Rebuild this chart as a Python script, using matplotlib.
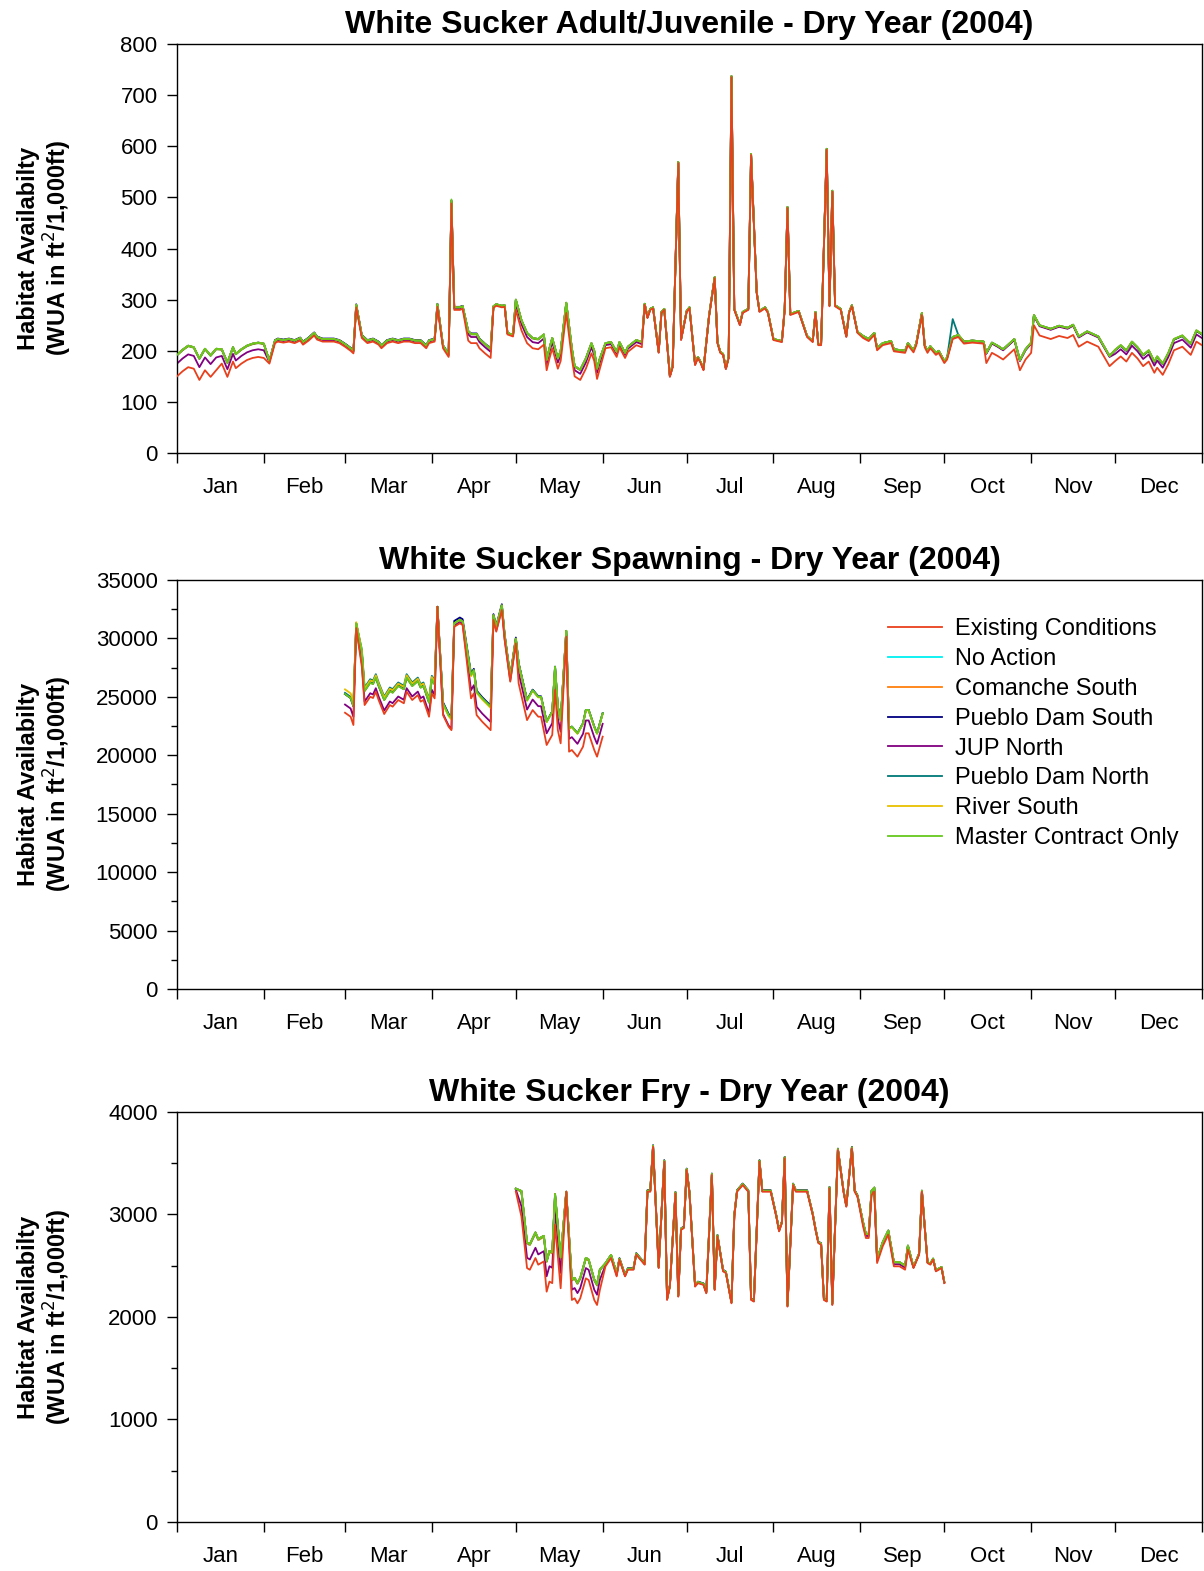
import numpy as np
import matplotlib.pyplot as plt

plt.rcParams['font.family'] = ['Liberation Sans', 'DejaVu Sans']

month_names = ['Jan', 'Feb', 'Mar', 'Apr', 'May', 'Jun',
               'Jul', 'Aug', 'Sep', 'Oct', 'Nov', 'Dec']
month_starts = [0, 31, 60, 91, 121, 152, 182, 213, 244, 274, 305, 335, 366]

series_names = ['Existing Conditions', 'No Action', 'Comanche South',
                'Pueblo Dam South', 'JUP North', 'Pueblo Dam North',
                'River South', 'Master Contract Only']
series_colors = ['#e8401c', '#00f0f0', '#ff7f0e', '#000080',
                 '#800080', '#007878', '#e8c000', '#66c81e']
series_z = [3.0, 2.0, 2.1, 2.2, 2.3, 2.4, 2.5, 2.6]

# ---- Adult/Juvenile: day of year, Existing Conditions value
adult_days = [0, 2, 4, 6, 8, 10, 12, 14, 16, 18, 20, 21, 23, 25, 27, 29, 31, 33, 35,
              36, 38, 40, 42, 44, 45, 47, 49, 50, 52, 54, 56, 58, 60, 62, 63, 64, 66,
              68, 70, 72, 73, 75, 77, 79, 81, 83, 85, 87, 89, 90, 92, 93, 95, 97, 98,
              99, 101, 102, 104, 105, 107, 108, 110, 112, 113, 114, 116, 117, 118, 120,
              121, 123, 125, 127, 129, 131, 132, 133, 134, 136, 137, 139, 141, 142, 144,
              146, 148, 149, 150, 151, 153, 155, 157, 158, 160, 161, 164, 166, 167, 168,
              169, 170, 172, 173, 174, 176, 177, 179, 180, 182, 183, 185, 186, 187, 188,
              190, 192, 193, 194, 195, 196, 197, 198, 199, 201, 202, 204, 205, 207, 208,
              210, 211, 213, 216, 217, 218, 219, 222, 225, 227, 228, 229, 230, 232, 233,
              234, 235, 237, 239, 240, 241, 243, 245, 247, 249, 250, 252, 255, 256, 260,
              261, 263, 264, 266, 267, 268, 269, 271, 272, 274, 275, 277, 279, 281, 284,
              288, 289, 291, 293, 295, 299, 301, 303, 305, 306, 308, 312, 315, 318, 320,
              322, 325, 329, 331, 333, 335, 337, 339, 341, 343, 345, 347, 349, 350, 352,
              354, 356, 359, 362, 364, 366]
adult_existing = [150, 160, 168, 165, 143, 162, 149, 162, 175, 149, 179, 166, 175, 182, 186,
                  188, 186, 175, 215,
                  218, 216, 218, 215, 220, 212, 220, 230, 222, 218, 218, 218, 215, 208, 200,
                  195, 285, 225, 215, 218, 212, 205, 215, 218, 215, 218, 218, 215, 215, 205,
                  215, 218, 286, 205, 188, 488,
                  280, 280, 282, 220, 215, 215, 205, 195, 186, 284, 288, 285, 286, 232, 228,
                  280, 240, 215, 205, 203, 212, 162, 185, 205, 165, 180, 274, 185, 150, 143,
                  165, 195, 180, 145, 165, 205, 207, 188, 207, 186, 198, 211, 207, 290, 264,
                  280, 283, 196, 274, 280, 149, 168, 567, 221, 276, 283, 172, 186, 176, 162,
                  267, 342, 215, 196, 192, 164, 186, 735, 280, 250, 274, 280, 583, 313, 276,
                  283, 274, 221, 217, 280, 479, 270, 276, 227, 217, 274, 211, 211, 593, 287,
                  511, 287, 280, 227, 274, 287, 235, 225, 219, 231, 201, 211, 215, 199, 196,
                  211, 197, 211, 270, 207, 196, 205, 192, 196, 176, 183, 223, 227, 214, 216,
                  214, 176, 196, 190, 183, 203, 162, 183, 196, 250, 230, 223, 229, 225, 231,
                  208, 218, 208, 189, 170, 180, 189, 179, 196, 185, 170, 179, 157, 167, 153,
                  174, 201, 208, 192, 218, 211]
# lift of each alternative above Existing Conditions, per period starting at these days
adult_periods = [0, 16, 33, 104, 113, 121, 152, 167, 244, 277, 289, 335]
adult_lift = {
    'No Action':            [41, 27, 5, 17, 3, 19, 9, 2, 4, 4, 19, 21],
    'Comanche South':       [41, 27, 5, 17, 3, 19, 9, 2, 4, 4, 19, 21],
    'Pueblo Dam South':     [42, 28, 6, 19, 3, 20, 10, 2, 4, 4, 20, 21],
    'JUP North':            [25, 15, 3, 12, 2, 12, 6, 1, 3, 3, 18, 14],
    'Pueblo Dam North':     [42, 28, 5, 18, 3, 20, 10, 2, 4, 4, 20, 22],
    'River South':          [42, 28, 5, 18, 3, 20, 10, 2, 4, 4, 20, 22],
    'Master Contract Only': [42, 28, 5, 18, 3, 20, 10, 2, 4, 4, 20, 22],
}
adult_peaks = {'Pueblo Dam North': {277: 262}, 'Master Contract Only': {98: 496}}

# ---- Spawning
spawn_days = [60, 62, 63, 64, 66, 67, 69, 70, 71, 72, 74, 76, 77, 79, 81, 82, 84, 86, 87,
              88, 90, 91, 92, 93, 95, 97, 98, 99, 101, 102, 105, 106, 107, 109, 112, 113,
              114, 116, 117, 119, 121, 122, 125, 126, 127, 129, 130, 132, 134, 135, 136,
              137, 139, 140, 141, 143, 145, 146, 147, 149, 150, 152]
spawn_existing = [23640, 23300, 22590, 30890, 27580, 24300, 25010, 24900, 25440, 24730,
                  23530, 24300, 24160, 24730, 24450, 25440, 24730, 25150, 24590, 24730,
                  23300, 25300, 24870, 32710, 23440, 22440, 22150, 31000, 31290, 31150,
                  24870, 25300, 23440, 22870, 22150, 31580, 30580, 32430, 29870, 26300,
                  29580, 26150, 23010, 23440, 23870, 23300, 23300, 20880, 21740, 25580,
                  22150, 21020, 30150, 20310, 20450, 19880, 20740, 21880, 21880, 20450,
                  19880, 21590]
spawn_periods = [60, 64, 65, 93, 94, 99, 104, 113, 122, 131, 139, 140]
spawn_lift = {
    'No Action':            [1600, 400, 1200, 0, 1000, 300, 2000, 400, 1700, 2000, 500, 2000],
    'Comanche South':       [1600, 400, 1200, 0, 1000, 300, 2000, 400, 1700, 2000, 500, 2000],
    'Pueblo Dam South':     [1600, 400, 1250, 0, 1100, 500, 2100, 500, 1750, 2000, 500, 2000],
    'JUP North':            [700, 100, 300, 0, 100, 100, 700, 100, 900, 1000, 200, 1100],
    'Pueblo Dam North':     [1700, 400, 1500, 0, 1000, 300, 2000, 400, 1700, 2000, 500, 2000],
    'River South':          [2000, 500, 1400, 0, 900, 300, 1900, 400, 1650, 1950, 500, 1950],
    'Master Contract Only': [1600, 400, 1200, 0, 1000, 300, 2000, 400, 1700, 2000, 500, 2000],
}

# ---- Fry
fry_days = [121, 123, 125, 126, 128, 129, 131, 132, 133, 134, 135, 137, 139, 141, 142, 143,
            144, 146, 147, 149, 150, 151, 153, 155, 157, 158, 160, 161, 163, 164, 167, 168,
            169, 170, 172, 174, 175, 176, 178, 179, 180, 181, 182, 183, 185, 186, 188, 189,
            191, 192, 193, 195, 196, 198, 199, 200, 202, 204, 205, 206, 208, 209, 212, 214,
            215, 216, 217, 218, 220, 221, 225, 227, 228, 229, 230, 231, 232, 233, 234, 236,
            238, 239, 241, 242, 243, 245, 246, 247, 248, 249, 250, 252, 254, 256, 258, 260,
            261, 263, 265, 266, 268, 269, 270, 271, 273, 274]
fry_existing = [3222, 2979, 2477, 2461, 2575, 2510, 2542, 2247, 2345, 2330, 2900, 2280, 3222,
                2166, 2182, 2133, 2182, 2377, 2360, 2166, 2117, 2263, 2494, 2575, 2396, 2559,
                2396, 2461, 2461, 2608, 2510, 3222, 3222, 3661, 2477, 3515, 2166, 2296, 3205,
                2198, 2850, 2867, 3433, 3205, 2296, 2330, 2313, 2231, 3385, 2263, 2786, 2445,
                2428, 2133, 2979, 3222, 3287, 3222, 2166, 2150, 3515, 3222, 3222, 2979, 2835,
                2916, 3547, 2101, 3287, 3222, 3222, 2997, 2850, 2721, 2705, 2166, 2150, 3254,
                2117, 3628, 3222, 3075, 3645, 3222, 3173, 2883, 2770, 2770, 3189, 3222, 2526,
                2689, 2803, 2494, 2494, 2461, 2656, 2477, 2608, 3222, 2526, 2510, 2559, 2445,
                2477, 2330]
fry_periods = [121, 123, 132, 139, 140, 152, 158, 244, 262]
fry_lift = {
    'No Action':            [30, 240, 290, 0, 190, 30, 10, 40, 10],
    'Comanche South':       [30, 240, 290, 0, 190, 30, 10, 40, 10],
    'Pueblo Dam South':     [30, 250, 300, 0, 200, 30, 15, 40, 10],
    'JUP North':            [20, 100, 150, 0, 100, 10, 5, 20, 5],
    'Pueblo Dam North':     [30, 250, 300, 0, 200, 30, 10, 40, 10],
    'River South':          [30, 250, 300, 0, 200, 30, 10, 40, 10],
    'Master Contract Only': [30, 250, 300, 0, 200, 30, 10, 40, 10],
}


def series_values(days, existing, periods, lift, name, peaks=None):
    vals = np.array(existing, dtype=float)
    if name == 'Existing Conditions':
        return vals
    idx = np.searchsorted(periods, days, side='right') - 1
    vals = vals + np.array(lift[name])[idx]
    if peaks and name in peaks:
        for d, v in peaks[name].items():
            vals[list(days).index(d)] = v
    return vals


def draw_panel(ax, title, days, existing, periods, lift, ymax, ystep, yminor, peaks=None):
    for name, color, z in zip(series_names, series_colors, series_z):
        ax.plot(days, series_values(days, existing, periods, lift, name, peaks),
                color=color, lw=1.3, zorder=z, label=name)
    ax.set_xlim(0, 366)
    ax.set_ylim(0, ymax)
    ax.set_yticks(np.arange(0, ymax + 1, ystep))
    if yminor:
        ax.set_yticks(np.arange(0, ymax + 1, yminor), minor=True)
    ax.set_xticks(month_starts)
    ax.set_xticklabels([])
    mids = [(month_starts[i] + month_starts[i + 1]) / 2 for i in range(12)]
    ax.set_xticks(mids, minor=True)
    ax.set_xticklabels(month_names, minor=True)
    ax.tick_params(axis='x', which='major', length=7, width=1)
    ax.tick_params(axis='x', which='minor', length=0, pad=17, labelsize=16)
    ax.tick_params(axis='y', which='major', length=7, width=1, labelsize=16, pad=7)
    ax.tick_params(axis='y', which='minor', length=4, width=1)
    for s in ax.spines.values():
        s.set_linewidth(1.0)
    ax.set_title(title, fontsize=23, fontweight='bold', pad=8)
    ax.set_ylabel('Habitat Availabilty\n(WUA in ft$^2$/1,000ft)', fontsize=17,
                  fontweight='bold', linespacing=1.1)
    ax.yaxis.set_label_coords(-0.10, 0.5)


fig = plt.figure(figsize=(12.04, 15.71), dpi=100)
ax1 = fig.add_axes([0.147, 0.7116, 0.8513, 0.2604])
ax2 = fig.add_axes([0.147, 0.3705, 0.8513, 0.2603])
ax3 = fig.add_axes([0.147, 0.0312, 0.8513, 0.2610])

draw_panel(ax1, 'White Sucker Adult/Juvenile - Dry Year (2004)',
           adult_days, adult_existing, adult_periods, adult_lift, 800, 100, None,
           adult_peaks)
draw_panel(ax2, 'White Sucker Spawning - Dry Year (2004)',
           spawn_days, spawn_existing, spawn_periods, spawn_lift, 35000, 5000, 2500)
draw_panel(ax3, 'White Sucker Fry - Dry Year (2004)',
           fry_days, fry_existing, fry_periods, fry_lift, 4000, 1000, 500)

ax2.legend(loc='upper right', bbox_to_anchor=(0.998, 0.958), frameon=False,
           fontsize=17, handlelength=2.3, labelspacing=0.33, handletextpad=0.55)

fig.savefig('out.png', dpi=100)
